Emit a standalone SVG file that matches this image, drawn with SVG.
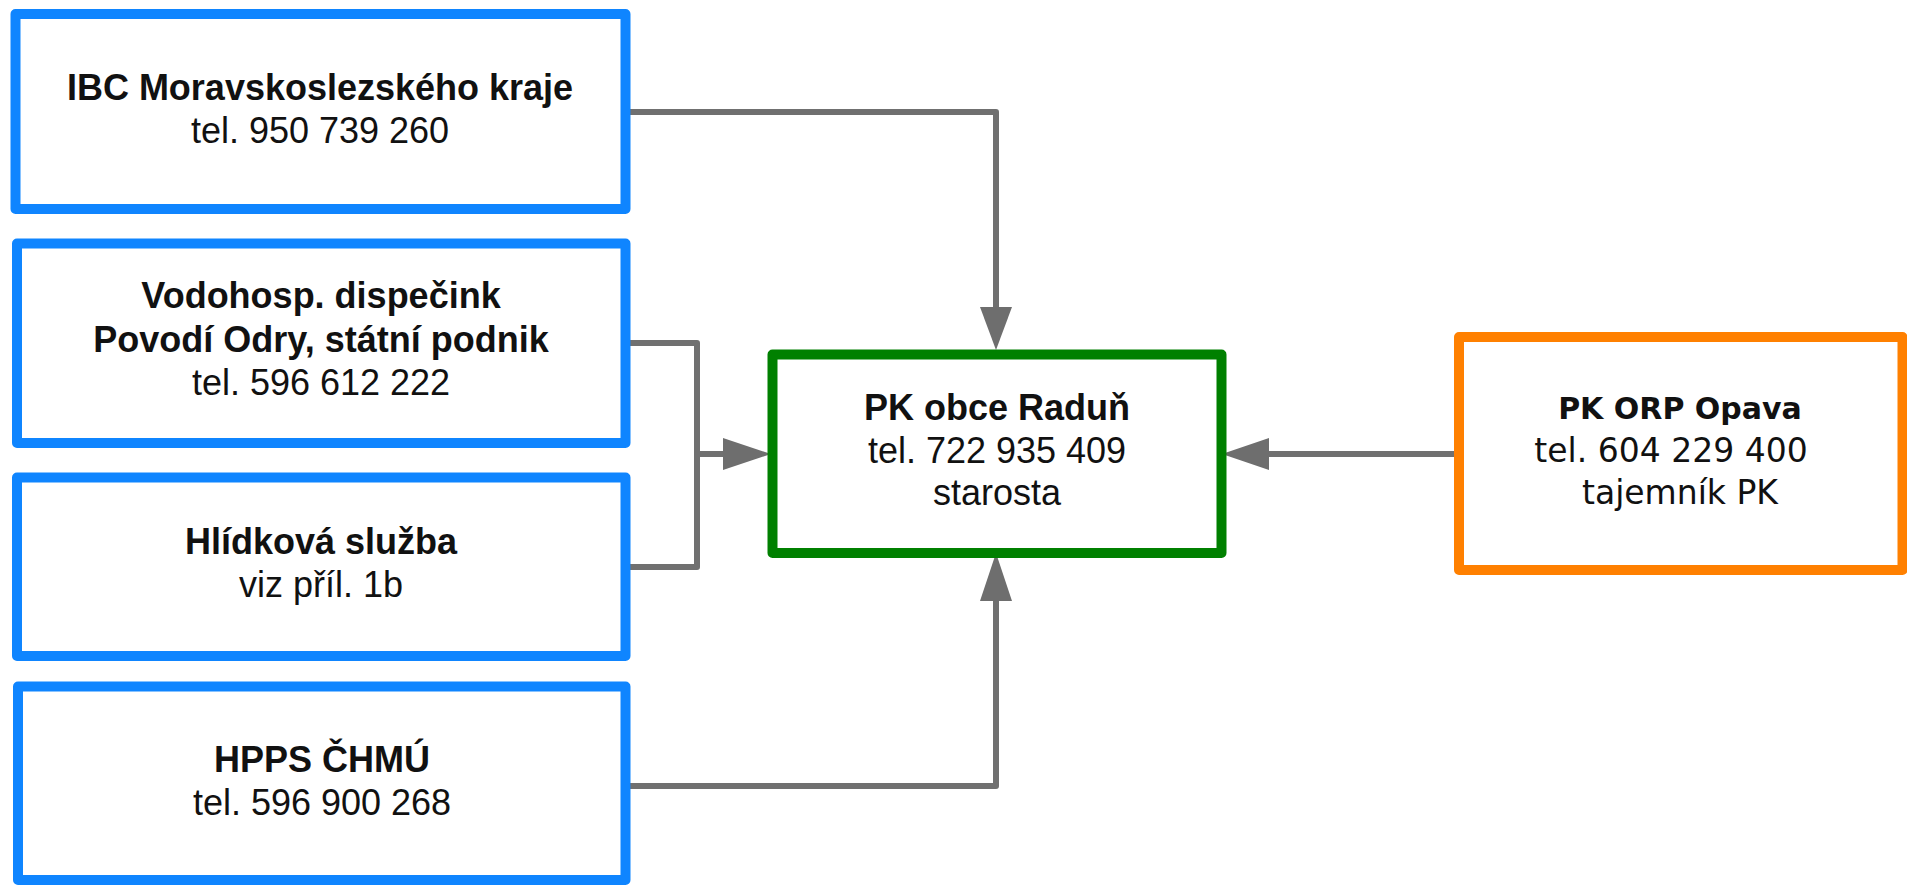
<svg xmlns="http://www.w3.org/2000/svg" width="1907" height="885" viewBox="0 0 1907 885">
<style>
.box{fill:#fff;stroke-width:10;stroke-linejoin:round}
.blue{stroke:#0F85FF}
.green{stroke:#008000}
.orange{stroke:#FF8000}
.t{font-family:"Liberation Sans",Arial,sans-serif;font-size:36px;fill:#111;text-anchor:middle}
.b{font-weight:bold}
.o{font-family:"DejaVu Sans",Verdana,sans-serif;fill:#111;text-anchor:middle}
.con{fill:none;stroke:#707070;stroke-width:6;stroke-linejoin:round}
.head{fill:#6E6E6E}
</style>
<rect width="1907" height="885" fill="#fff"/>
<g id="connectors">
<path class="con" d="M626,112 H996 V310"/>
<polygon class="head" points="980,307 1012,307 996,350"/>
<path class="con" d="M626,343 H697 V567 H626"/>
<path class="con" d="M697,454 H726"/>
<polygon class="head" points="723,438 723,470 771,454"/>
<path class="con" d="M626,786 H996 V598"/>
<polygon class="head" points="980,601 1012,601 996,553"/>
<path class="con" d="M1455,454 H1266"/>
<polygon class="head" points="1269,438 1269,470 1222,454"/>
</g>
<g id="ibc">
<rect class="box blue" x="15.5" y="14" width="610" height="195"/>
<text class="t b" x="320" y="100">IBC Moravskoslezského kraje</text>
<text class="t" x="320" y="143">tel. 950 739 260</text>
</g>
<g id="vodohosp">
<rect class="box blue" x="17" y="243.5" width="608.5" height="199.5"/>
<text class="t b" x="321" y="308">Vodohosp. dispečink</text>
<text class="t b" x="321" y="352">Povodí Odry, státní podnik</text>
<text class="t" x="321" y="395">tel. 596 612 222</text>
</g>
<g id="hlidkova">
<rect class="box blue" x="17" y="477.5" width="608.5" height="178.5"/>
<text class="t b" x="321" y="554">Hlídková služba</text>
<text class="t" x="321" y="597">viz příl. 1b</text>
</g>
<g id="hpps">
<rect class="box blue" x="18" y="686.5" width="607.5" height="193.5"/>
<text class="t b" x="322" y="772">HPPS ČHMÚ</text>
<text class="t" x="322" y="815">tel. 596 900 268</text>
</g>
<g id="pk-radun">
<rect class="box green" x="772.5" y="354.5" width="449" height="198.5"/>
<text class="t b" x="997" y="420">PK obce Raduň</text>
<text class="t" x="997" y="463">tel. 722 935 409</text>
<text class="t" x="997" y="505">starosta</text>
</g>
<g id="pk-opava">
<rect class="box orange" x="1459" y="337" width="443.5" height="233"/>
<text class="o b" x="1680" y="419" font-size="30">PK ORP Opava</text>
<text class="o" x="1671" y="462" font-size="33">tel. 604 229 400</text>
<text class="o" x="1680" y="504" font-size="33">tajemník PK</text>
</g>
</svg>
